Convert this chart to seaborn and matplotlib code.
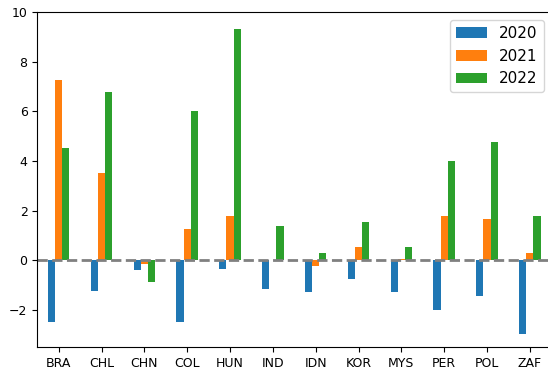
import numpy as np
import pandas as pd
import matplotlib
matplotlib.use("Agg")
import matplotlib.pyplot as plt
import seaborn as sns

# Values
countries = ['BRA', 'CHL', 'CHN', 'COL', 'HUN', 'IND', 'IDN', 'KOR', 'MYS', 'PER', 'POL', 'ZAF']
v2020 = [-2.50, -1.25, -0.38, -2.50, -0.34, -1.18, -1.27, -0.78, -1.27, -2.02, -1.43, -2.99]
v2021 = [7.25, 3.50, -0.16, 1.24, 1.79, 0.0, -0.24, 0.51, 0.05, 1.76, 1.64, 0.27]
v2022 = [4.51, 6.77, -0.90, 6.00, 9.34, 1.39, 0.27, 1.52, 0.51, 3.98, 4.75, 1.76]
years = ['2020', '2021', '2022']

df = pd.DataFrame({'2020': v2020, '2021': v2021, '2022': v2022}, index=countries)
long_df = df.reset_index(names='country').melt(id_vars='country', var_name='year', value_name='value')

fig, ax = plt.subplots(figsize=(5.48, 3.69), dpi=100)
fig.subplots_adjust(left=0.068, right=1.006, top=0.967, bottom=0.060)

sns.barplot(data=long_df, x='country', y='value', hue='year', hue_order=years,
            palette=['#1f77b4', '#ff7f0e', '#2ca02c'], saturation=1,
            width=0.5, gap=0, errorbar=None, linewidth=0, ax=ax)

ax.axhline(0, color='gray', linestyle='--', linewidth=2)
ax.set_xlim(-0.5, len(countries) - 0.5)
ax.set_ylim(-3.5, 10)
ax.set_xlabel('')
ax.set_ylabel('')
ax.tick_params(labelsize=9)
sns.move_legend(ax, 'upper right', title=None, fontsize=11)

fig.savefig('out.png', dpi=100)
